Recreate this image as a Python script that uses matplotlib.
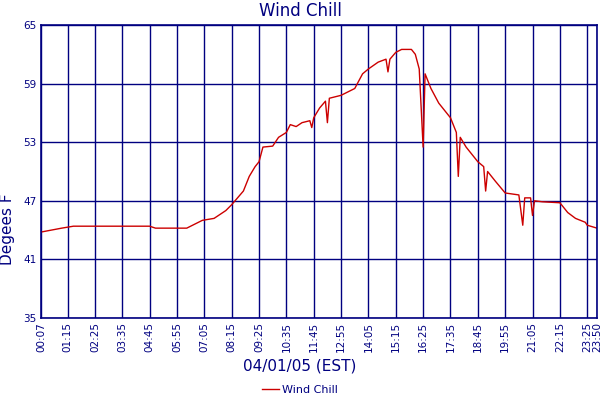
import matplotlib
matplotlib.use("Agg")
import matplotlib.pyplot as plt
from matplotlib.lines import Line2D

navy = '#000080'

# time of day (HH:MM) and wind chill (F)
times = ['00:07', '01:00', '01:30', '04:45', '05:00', '06:20', '06:40', '07:00', '07:30',
         '08:00', '08:15', '08:45', '09:00', '09:15', '09:25', '09:35', '10:00', '10:15',
         '10:35', '10:45', '11:00', '11:15', '11:35', '11:40', '11:45', '12:00', '12:15',
         '12:20', '12:25', '12:55', '13:30', '13:50', '14:05', '14:30', '14:50', '14:55',
         '15:00', '15:15', '15:30', '15:55', '16:05', '16:15', '16:25', '16:30', '16:45',
         '17:05', '17:35', '17:50', '17:55', '18:00', '18:15', '18:45', '19:00', '19:05',
         '19:10', '19:30', '19:55', '20:30', '20:40', '20:45', '21:00', '21:05', '21:10',
         '21:30', '22:15', '22:35', '22:55', '23:20', '23:25', '23:50']
chill = [43.8, 44.2, 44.4, 44.4, 44.2, 44.2, 44.6, 45.0, 45.2,
         46.0, 46.6, 48.0, 49.5, 50.5, 51.0, 52.5, 52.6, 53.5,
         54.0, 54.8, 54.6, 55.0, 55.2, 54.5, 55.5, 56.5, 57.2,
         55.0, 57.5, 57.8, 58.5, 60.0, 60.5, 61.2, 61.5, 60.2,
         61.5, 62.2, 62.5, 62.5, 62.0, 60.5, 52.5, 60.0, 58.5,
         57.0, 55.5, 54.0, 49.5, 53.5, 52.5, 51.0, 50.5, 48.0,
         50.0, 49.0, 47.8, 47.6, 44.5, 47.3, 47.3, 45.5, 47.0,
         46.9, 46.8, 45.8, 45.2, 44.8, 44.5, 44.2]

tick_labels = ['00:07', '01:15', '02:25', '03:35', '04:45', '05:55', '07:05', '08:15',
               '09:25', '10:35', '11:45', '12:55', '14:05', '15:15', '16:25', '17:35',
               '18:45', '19:55', '21:05', '22:15', '23:25', '23:50']
y_ticks = [35, 41, 47, 53, 59, 65]


def to_min(t):
    h, m = t.split(':')
    return int(h) * 60 + int(m)


x = [to_min(t) for t in times]
xt = [to_min(t) for t in tick_labels]

fig = plt.figure(figsize=(6, 4), dpi=100)
ax = fig.add_axes([41 / 600, 82 / 400, 556 / 600, 293 / 400])
ax.plot(x, chill, color='#cc0000', lw=1)
ax.set_xlim(xt[0], xt[-1])
ax.set_ylim(35, 65)
ax.set_xticks(xt)
ax.set_xticklabels(tick_labels, rotation=90)
ax.set_yticks(y_ticks)
ax.grid(True, color=navy, lw=1)
ax.tick_params(colors=navy, labelcolor=navy, labelsize=7.5, length=0, pad=3)
for s in ax.spines.values():
    s.set_color(navy)
    s.set_linewidth(1.2)

fig.text(0.5, 0.995, 'Wind Chill', ha='center', va='top', color=navy, fontsize=12)
fig.text(8 / 600, 171 / 400 + 0.0, 'Degees F', rotation=90, ha='center', va='center',
         color=navy, fontsize=11)
fig.text(0.5, 34 / 400, '04/01/05 (EST)', ha='center', va='center', color=navy, fontsize=11)
fig.legend([Line2D([], [], color='#cc0000', lw=1)], ['Wind Chill'],
           loc='center', bbox_to_anchor=(0.5, 10 / 400), frameon=False,
           fontsize=8, labelcolor=navy, handlelength=1.5, handletextpad=0.3,
           borderpad=0)

fig.savefig('out.png', dpi=100)
